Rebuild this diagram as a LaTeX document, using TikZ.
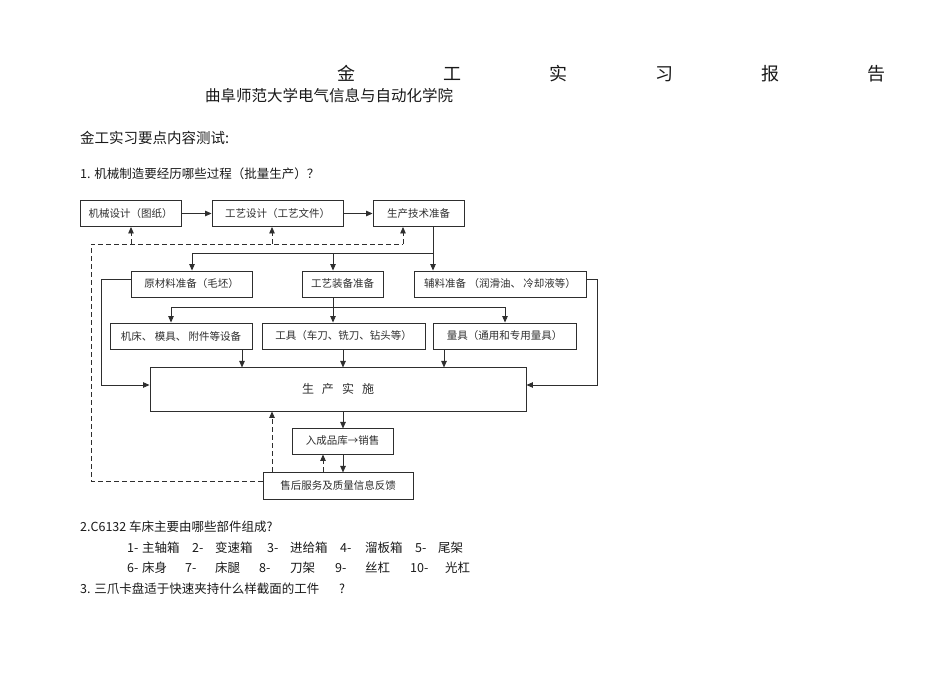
\documentclass[tikz,border=0pt]{standalone}
\usepackage{fontspec}
\usepackage{tikz}
\usetikzlibrary{arrows.meta,positioning}
\newfontfamily\cjk{Noto Sans CJK SC}
\definecolor{inkgray}{HTML}{2E2E2E}

\begin{document}
\begin{tikzpicture}[
  x=1pt, y=-1pt,
  box/.style={draw=inkgray, line width=0.9pt, minimum height=26pt, inner sep=0pt, align=center, font=\cjk\fontsize{10.5}{12}\selectfont, text=inkgray},
  arr/.style={-{Triangle[length=6.5pt,width=5.5pt]}, line width=0.9pt, draw=inkgray},
  darr/.style={arr, dash pattern=on 5pt off 3pt},
  link/.style={line width=0.9pt, draw=inkgray},
  dlink/.style={link, dash pattern=on 5pt off 3pt},
  txt/.style={inner sep=0pt, anchor=west, text=black!90},
]
  \useasboundingbox (0,0) rectangle (950,672);

  % Heading texts
  \node[inner sep=0pt, text=black!90, font=\cjk\fontsize{18}{20}\selectfont] (title) at (611,74)
    {金\hspace{88pt}工\hspace{88pt}实\hspace{88pt}习\hspace{88pt}报\hspace{88pt}告};
  \node[txt, font=\cjk\fontsize{15.5}{18}\selectfont] (school) at (205,96) {曲阜师范大学电气信息与自动化学院};
  \node[txt, font=\cjk\fontsize{14.5}{17}\selectfont] (topic) at (80,138) {金工实习要点内容测试:};
  \node[txt, font=\cjk\fontsize{12.5}{15}\selectfont] (q1) at (80,174) {1. 机械制造要经历哪些过程（批量生产）？};

  % Row 0: design
  \node[box, minimum width=101pt] (mech) at (130.5,213.5) {机械设计（图纸）};
  \node[box, minimum width=131pt] (proc) at (277.5,213.5) {工艺设计（工艺文件）};
  \node[box, minimum width=91pt]  (tech) at (418.5,213.5) {生产技术准备};

  % Row 1: preparation
  \node[box, minimum width=121pt] (raw)  at (191.5,284) {原材料准备（毛坯）};
  \node[box, minimum width=81pt]  (equip) at (342.5,284) {工艺装备准备};
  \node[box, minimum width=172pt] (aux)  at (500,284) {辅料准备 （润滑油、 冷却液等）};

  % Row 2: equipment
  \node[box, minimum width=142pt] (mach)  at (181,336) {机床、 模具、 附件等设备};
  \node[box, minimum width=163pt] (cut)   at (343.5,336) {工具（车刀、铣刀、钻头等）};
  \node[box, minimum width=143pt] (gauge) at (504.5,336) {量具（通用和专用量具）};

  % Row 3: production and after
  \node[box, minimum width=376pt, minimum height=44pt, font=\cjk\fontsize{12}{14}\selectfont] (prod) at (338,389)
    {生\hspace{8pt}产\hspace{8pt}实\hspace{8pt}施};
  \node[box, minimum width=101pt] (store) at (342.5,441) {入成品库→销售};
  \node[box, minimum width=150pt, minimum height=27pt] (svc) at (338,485.5) {售后服务及质量信息反馈};

  % Branch points
  \coordinate (s1) at (192,253);
  \coordinate (s2) at (333,253);
  \coordinate (s3) at (433,253);
  \coordinate (t1) at (171,307);
  \coordinate (t2) at (333,307);
  \coordinate (t3) at (505,307);
  \coordinate (lc) at (101,279);
  \coordinate (rc) at (597,279);
  \coordinate (fb) at (91,481);
  \coordinate (f1) at (131,244);
  \coordinate (f2) at (272,244);
  \coordinate (f3) at (403,244);

  % Edges
  \draw[arr] (mech) -- (proc);
  \draw[arr] (proc) -- (tech);
  \draw[link] (tech.south -| s3) -- (s3) -- (s1);
  \draw[arr] (s1) -- (s1 |- raw.north);
  \draw[arr] (s2) -- (s2 |- equip.north);
  \draw[arr] (s3) -- (s3 |- aux.north);
  \draw[link] (equip.south -| t2) -- (t2);
  \draw[link] (t1) -- (t3);
  \draw[arr] (t1) -- (t1 |- mach.north);
  \draw[arr] (t2) -- (t2 |- cut.north);
  \draw[arr] (t3) -- (t3 |- gauge.north);
  \draw[arr] (mach.south -| prod.north) ++(-96,0) -- ++(0,18);
  \draw[arr] (cut.south -| prod.north) ++(5,0) -- ++(0,18);
  \draw[arr] (gauge.south -| prod.north) ++(106,0) -- ++(0,18);
  \draw[arr] (raw.west |- lc) -- (lc) -- (lc |- 0,385) -- (prod.west |- 0,385);
  \draw[arr] (aux.east |- rc) -- (rc) -- (rc |- 0,385) -- (prod.east |- 0,385);
  \draw[arr] (prod.south -| store.north) ++(0.5,0) -- ++(0,17);
  \draw[arr] (store.south -| svc.north) ++(5,0) -- ++(0,18);
  \draw[darr] (svc.north -| 323,0) -- (store.south -| 323,0);
  \draw[darr] (svc.north -| f2) -- (prod.south -| f2);
  \draw[dlink] (svc.west |- fb) -- (fb) -- (fb |- f1) -- (f3);
  \draw[darr] (f1) -- (f1 |- mech.south);
  \draw[darr] (f2) -- (f2 |- proc.south);
  \draw[darr] (f3) -- (f3 |- tech.south);

  % Question 2 and 3
  \node[txt, font=\cjk\fontsize{12.5}{15}\selectfont] (q2) at (80,527) {2.C6132 车床主要由哪些部件组成?};
  \foreach \i/\xn/\xw/\part in {1/127/142/主轴箱, 2/192/215/变速箱, 3/267/290/进给箱, 4/340/365/溜板箱, 5/415/438/尾架}
  {
    \node[txt, font=\cjk\fontsize{12.5}{15}\selectfont] (n\i) at (\xn,548) {\i-};
    \node[txt, font=\cjk\fontsize{12.5}{15}\selectfont] (p\i) at (\xw,548) {\part};
  }
  \foreach \i/\xn/\xw/\part in {6/127/142/床身, 7/185/215/床腿, 8/259/290/刀架, 9/335/365/丝杠, 10/410/445/光杠}
  {
    \node[txt, font=\cjk\fontsize{12.5}{15}\selectfont] (n\i) at (\xn,568) {\i-};
    \node[txt, font=\cjk\fontsize{12.5}{15}\selectfont] (p\i) at (\xw,568) {\part};
  }
  \node[txt, font=\cjk\fontsize{12.5}{15}\selectfont] (q3) at (80,589) {3. 三爪卡盘适于快速夹持什么样截面的工件};
  \node[txt, font=\cjk\fontsize{12.5}{15}\selectfont] (q3mark) at (339,589) {?};
\end{tikzpicture}
\end{document}
